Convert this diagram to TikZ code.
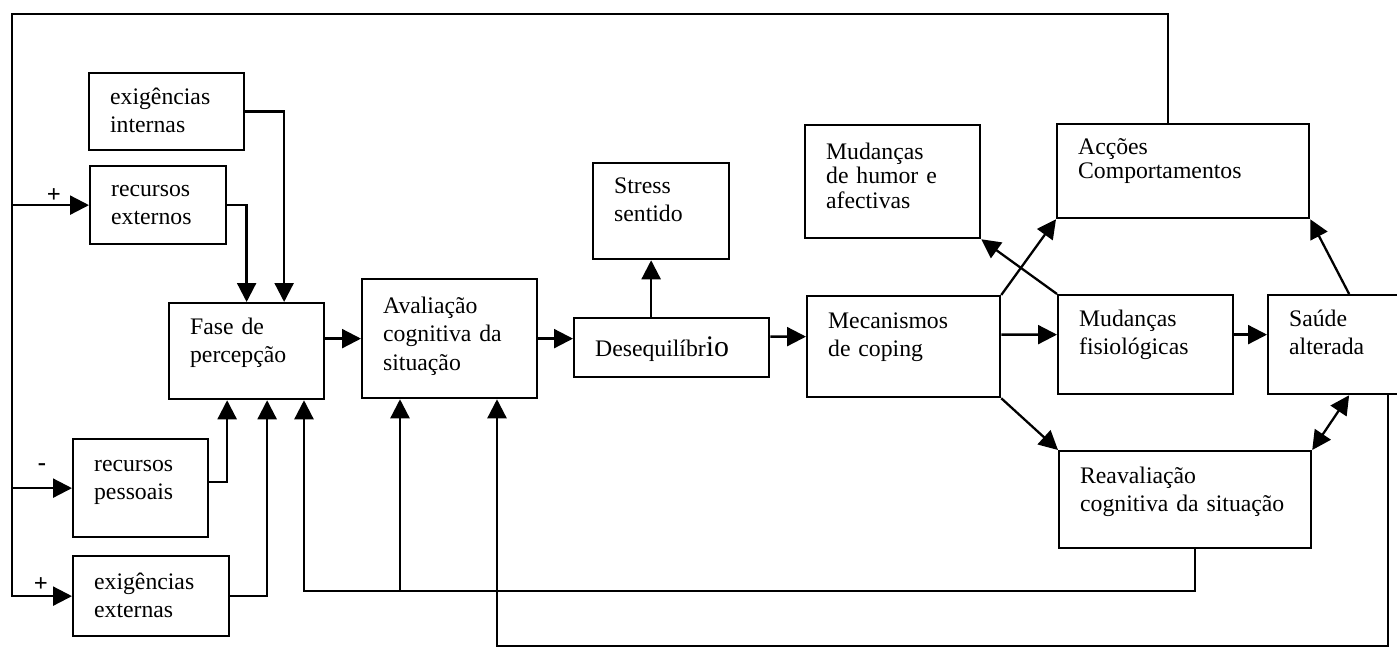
\documentclass[tikz,border=0pt]{standalone}
\usepackage{fontspec}
\setmainfont{Liberation Serif}
\usetikzlibrary{arrows.meta}
\usetikzlibrary{calc}
\usetikzlibrary{positioning}

\begin{document}
\begin{tikzpicture}[x=0.02cm,y=-0.02cm,line width=1.3pt,
	font=\fontsize{13.5}{16.3}\selectfont,
	blk/.style={draw, anchor=north west, align=left, inner xsep=0.42cm, inner ysep=0pt},
	sz/.style n args={3}{text width=#1, text height=#2, text depth=#3},
	tight/.style={font=\fontsize{13.5}{14}\selectfont},
	arr/.style={-{Triangle[length=0.38cm,width=0.38cm]}},
	arrb/.style={{Triangle[length=0.38cm,width=0.38cm]}-{Triangle[length=0.38cm,width=0.38cm]}},
	sgn/.style={inner sep=0pt, font=\fontsize{14}{14}\selectfont\bfseries}]
\useasboundingbox (0,0) rectangle (1397,648);

\node (exint) at (88,72) [blk,sz={2.26cm}{0.62cm}{0.92cm}] {exigências\\internas};
\node (recext) at (89,165) [blk,sz={1.88cm}{0.60cm}{0.96cm}] {recursos\\externos};
\node (fase) at (168,302) [blk,sz={2.26cm}{0.62cm}{1.30cm}] {Fase de\\percepção};
\node (recpes) at (72,438) [blk,sz={1.86cm}{0.64cm}{1.32cm}] {recursos\\pessoais};
\node (exext) at (72,555) [blk,sz={2.28cm}{0.66cm}{0.94cm}] {exigências\\externas};
\node (aval) at (361,278) [blk,sz={2.66cm}{0.68cm}{1.70cm}] {Avaliação\\cognitiva da\\situação};
\node (stress) at (592,162) [blk,sz={1.88cm}{0.60cm}{1.32cm}] {Stress\\sentido};
\node (deseq) at (573,317) [blk,sz={3.06cm}{0.76cm}{0.42cm}] {Desequilíbr{\fontsize{17}{17}\selectfont io}};
\node (mudhum) at (804,124) [blk,tight,sz={2.66cm}{0.68cm}{1.58cm}] {Mudanças\\de humor e\\afectivas};
\node (accoes) at (1056,123) [blk,tight,sz={4.20cm}{0.60cm}{1.28cm}] {Acções\\Comportamentos};
\node (mec) at (806,295) [blk,sz={3.02cm}{0.64cm}{1.38cm}] {Mecanismos\\de coping};
\node (mudfis) at (1057,294) [blk,sz={2.66cm}{0.62cm}{1.36cm}] {Mudanças\\fisiológicas};
\node (saude) at (1267,294) [blk,sz={1.90cm}{0.62cm}{1.36cm}] {Saúde\\alterada};
\node (reav) at (1058,450) [blk,sz={4.20cm}{0.64cm}{1.30cm}] {Reavaliação\\cognitiva da situação};

% retorno das accoes
\coordinate (top) at (1168,14);
\coordinate (tl) at (12,14);
\draw[arr] (accoes.north -| top) -- (top) -- (tl) |- (exext.west);
\draw[arr] (tl |- recext.west) -- (recext.west);
\draw[arr] (tl |- recpes.west) -- (recpes.west);
\node (p1) at (54,196) [sgn] {+};
\node (m1) at (42,467) [sgn] {-};
\node (p2) at (41,585) [sgn] {+};

\draw[arr] (exint.east) -| ($(fase.north)+(37.5,0)$);
\draw[arr] (recext.east) -| (fase.north);
\draw[arr] ($(recpes.east)+(0,-6)$) -| ($(fase.south)+(-19.5,0)$);
\draw[arr] (exext.east) -| ($(fase.south)+(20.5,0)$);

% reavaliacao
\coordinate (b1) at (304,591);
\coordinate (b2) at (400,591);
\draw[arr] ($(reav.south)+(10,0)$) |- (b1) -- (b1 |- fase.south);
\draw[arr] (b2) -- (b2 |- aval.south);
\coordinate (br) at (1388,646);
\coordinate (b3) at (497,646);
\draw[arr] (saude.south -| br) -- (br) -- (b3) -- (b3 |- aval.south);

\draw[arr] (fase.east |- aval.west) -- (aval.west);
\draw[arr] (aval.east) -- (aval.east -| deseq.west);
\coordinate (ds) at ($(stress.south)+(-10,0)$);
\draw[arr] (ds |- deseq.north) -- (ds);
\draw[arr] ($(deseq.east)+(0,-11)$) -- ($(mec.west)+(0,-10)$);
\draw[arr] ($(mec.east)+(0,-12)$) -- ($(mudfis.west)+(0,-10)$);
\draw[arr] ($(mudfis.east)+(0,-10)$) -- ($(saude.west)+(0,-10)$);
\draw[arr] (mec.north east) -- (accoes.south west);
\draw[arr] (mudfis.north west) -- (mudhum.south east);
\draw[arr] (mec.south east) -- (reav.north west);
\draw[arr] ($(saude.north)+(12.5,0)$) -- (accoes.south east);
\draw[arrb] ($(saude.south)+(12.5,0)$) -- (reav.north east);
%\draw[arr] (deseq.south) -- +(0,-1cm);
\end{tikzpicture}
\end{document}
